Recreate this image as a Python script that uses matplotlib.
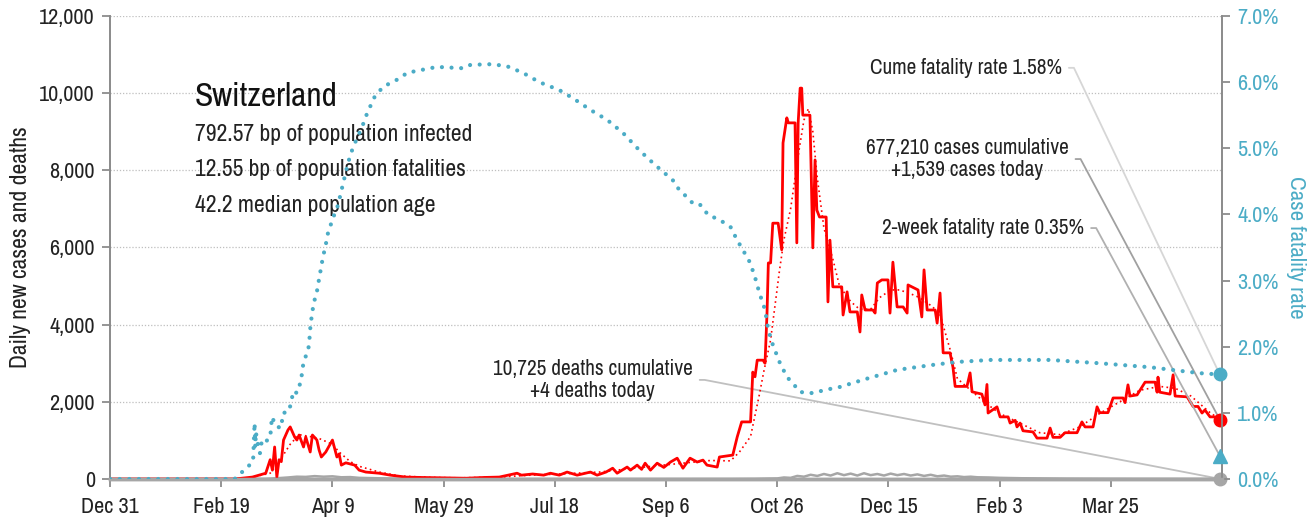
import matplotlib
matplotlib.use("Agg")
import matplotlib.pyplot as plt
from matplotlib import font_manager

# days counted from Dec 31, 2019
tick_days = [0, 50, 100, 150, 200, 250, 300, 350, 400, 450]
tick_labels = ["Dec 31", "Feb 19", "Apr 9", "May 29", "Jul 18",
               "Sep 6", "Oct 26", "Dec 15", "Feb 3", "Mar 25"]

# daily new cases as (day, cases)
case_points = [
    (0, 0), (56, 0), (64, 50), (70, 150), (72, 500), (73, 230), (74, 830), (75, 50),
    (76, 500), (77, 450), (78, 1010), (80, 1270), (81, 1350), (83, 1090), (84, 1010),
    (85, 1140), (87, 830), (88, 1090), (90, 700), (91, 1140), (93, 1010), (94, 750),
    (95, 570), (97, 700), (100, 1010), (102, 570), (103, 650), (104, 360), (106, 420),
    (110, 360), (112, 230), (115, 180), (121, 150), (126, 100), (133, 50), (140, 40),
    (150, 30), (160, 20), (168, 40), (175, 50), (183, 150), (185, 100), (190, 130),
    (195, 100), (198, 150), (202, 100), (205.5, 180), (210, 100), (216, 180), (219, 100),
    (223, 180), (226, 280), (228, 150), (232.5, 310), (234, 230), (237, 360), (239, 250),
    (240.6, 410), (243, 230), (246, 410), (249, 300), (252, 440), (255, 540), (257.6, 280),
    (260.8, 540), (264, 440), (266.6, 490), (268.4, 360), (273, 310), (274, 570),
    (280, 620), (282, 1090), (284, 1480),
    (288, 1480), (289, 2770), (290, 2650), (291, 3080), (293.6, 3080), (294.5, 3000),
    (295.4, 4300), (296, 5600), (297, 5600), (298, 6630), (300.4, 6630), (302, 5940),
    (302.6, 8710), (304.3, 9360), (305, 9230), (308, 9230), (308.8, 6120), (309.4, 9230),
    (310.3, 10130), (311, 10130), (311.5, 9430), (314.7, 9430), (316, 5990), (317, 8270),
    (317.8, 6970), (319, 6790), (322, 6790), (322.8, 4590), (323.7, 6190), (325, 4980),
    (329, 4980), (329.6, 4250), (331.4, 4850), (332.7, 4330), (336, 4330), (337.2, 3810),
    (338, 4770), (339.5, 4380), (343, 4380), (344, 4300), (345, 5080), (347, 5160),
    (349.8, 5160), (350.7, 4300), (352, 5620), (353.9, 4460), (356.6, 4460), (358.4, 4300),
    (358.8, 5030), (363.3, 4900), (365, 4200), (366, 5420), (367.4, 4380), (371, 4380),
    (371.9, 4040), (373.2, 4820), (374.6, 3270), (377.7, 3270), (379, 2900), (380, 2400),
    (385.3, 2400), (386.7, 2750), (387.6, 2260), (392, 2200), (393.4, 1920), (394.3, 2450),
    (394.8, 1710), (398.8, 1870), (400.2, 1610), (403.8, 1610), (404.7, 1450), (407, 1520),
    (407.8, 1350), (409.2, 1450), (410.5, 1250), (415, 1220), (416.8, 1060), (421.3, 1060),
    (422.7, 1320), (424, 1080), (427.2, 1080), (429.4, 1200), (434.8, 1200), (437, 1480),
    (438.4, 1350), (442, 1350), (443.8, 1870), (445, 1720), (448.7, 1720), (451, 2100),
    (455.5, 2100), (456.4, 1980), (457.7, 2440), (458.6, 2150), (461.8, 2180), (465.4, 2510),
    (469.9, 2510), (470.8, 2250), (471.2, 2640), (472, 2250), (476.6, 2200), (478, 2700),
    (478.9, 2150), (484.3, 2130), (487, 1880), (489.2, 1880), (491, 1710), (492.3, 1790),
    (494.6, 1610), (496.8, 1610), (499, 1539),
]

# rolling average of new cases
avg_days = [0, 60, 72, 76, 81, 85, 90, 94, 100, 103, 108, 112, 121, 130, 144, 157, 175,
            189, 202, 220, 234, 247, 261, 270, 279, 283, 288, 292, 294, 297, 299, 301,
            303, 306, 308, 310, 312, 314, 316, 318, 321, 325, 328, 333, 337, 342, 346,
            351, 355, 360, 364, 369, 373, 378, 381, 387, 393, 400, 409, 418, 427, 436,
            445, 454, 463, 472, 479, 486, 495, 499]
avg_cases = [0, 0, 150, 450, 900, 1150, 1100, 1050, 900, 700, 450, 330, 180, 80, 40, 30,
             50, 100, 130, 180, 270, 350, 430, 480, 470, 700, 1100, 2200, 2800, 3600,
             4500, 5400, 6200, 7000, 7800, 8600, 9300, 9600, 9000, 7800, 6500, 5700,
             5000, 4600, 4400, 4400, 4700, 4900, 4900, 4800, 4700, 4500, 4300, 3300,
             2600, 2300, 2000, 1700, 1450, 1200, 1150, 1350, 1700, 2000, 2300, 2400,
             2350, 2150, 1700, 1560]

# daily deaths
death_days = [0, 70, 75, 80, 84, 88, 92, 96, 100, 104, 108, 112, 120, 130, 140, 160,
              250, 280, 290, 296, 300, 303, 306, 309, 312, 315, 318, 321, 324, 327, 330,
              333, 336, 339, 342, 345, 348, 351, 354, 357, 360, 363, 366, 369, 372, 375,
              378, 381, 384, 387, 390, 395, 400, 405, 410, 420, 430, 440, 460, 480, 499]
deaths = [0, 5, 20, 40, 60, 55, 75, 60, 70, 45, 50, 30, 20, 10, 3, 1, 1, 2, 5, 12, 15,
          40, 30, 80, 60, 110, 80, 130, 90, 150, 100, 140, 90, 150, 100, 130, 90, 140,
          100, 130, 90, 120, 80, 110, 70, 90, 60, 70, 50, 60, 45, 40, 30, 25, 20, 15, 10,
          8, 5, 4, 4]

# case fatality rate in percent (right axis)
cfr_days = [0, 56, 64.3, 65, 65.3, 65.6, 66, 67.4, 68.3, 69.7, 72, 72.8, 74.6, 76.9,
            77.8, 80, 81, 81.8, 82.3, 84, 85, 85.9, 86.8, 87.7, 89, 89.5, 90, 90.4,
            90.8, 91.3, 92.2, 93, 93.5, 95.8, 96.7, 98, 100.3, 102.5, 104.8, 107,
            109.3, 113.3, 115.6, 119, 122.8, 130.4, 133.5, 139.4, 147, 158.7, 162,
            169.5, 172, 178.5, 185.7, 193, 202, 208, 216, 223.5, 230.7, 238, 245, 253,
            255, 262, 265, 269, 274, 279, 282, 284.6, 287.8, 290, 292, 294.5, 296, 298,
            301, 304.4, 307, 310, 313, 316, 322, 328, 338.6, 354, 368.7, 381, 396,
            422.7, 445, 467.6, 490, 499]
cfr = [0, 0, 0.26, 0.85, 0.48, 0.71, 0.6, 0.39, 0.59, 0.56, 0.62, 0.94, 0.8, 0.77,
       1.0, 1.01, 1.1, 1.22, 1.33, 1.3, 1.39, 1.5, 1.72, 1.83, 1.94, 2.04, 2.27, 2.39,
       2.49, 2.6, 2.74, 2.83, 2.93, 3.37, 3.49, 3.72, 3.95, 4.14, 4.47, 4.78, 5.02,
       5.32, 5.53, 5.78, 5.93, 6.06, 6.14, 6.18, 6.23, 6.21, 6.26, 6.27, 6.27, 6.24,
       6.14, 6.0, 5.88, 5.76, 5.58, 5.43, 5.23, 4.97, 4.75, 4.52, 4.41, 4.17, 4.16,
       3.99, 3.92, 3.81, 3.61, 3.46, 3.27, 3.05, 2.81, 2.56, 2.25, 2.03, 1.77, 1.54,
       1.45, 1.32, 1.3, 1.3, 1.35, 1.39, 1.5, 1.65, 1.72, 1.77, 1.8, 1.8, 1.75, 1.69,
       1.6, 1.58]

two_week_rate = 0.35
title = "Switzerland"
stats = ["792.57 bp of population infected",
         "12.55 bp of population fatalities",
         "42.2 median population age"]
cume_text = "Cume fatality rate 1.58%"
cases_text = "677,210 cases cumulative\n+1,539 cases today"
twoweek_text = "2-week fatality rate 0.35%"
deaths_text = "10,725 deaths cumulative\n+4 deaths today"

case_days = [p[0] for p in case_points]
cases = [p[1] for p in case_points]

# look for a narrow font, like the original's condensed face
narrow = None
for f in font_manager.fontManager.ttflist:
    if f.style != "normal" or f.weight not in (400, "normal", "regular"):
        continue
    if "Narrow" in f.name or "Condensed" in f.name:
        narrow = (f.name, "normal")
        break
    if f.stretch in ("condensed", "semi-condensed") and f.name in ("Noto Sans", "Open Sans", "Roboto"):
        narrow = (f.name, f.stretch)
if narrow:
    plt.rcParams["font.family"] = [narrow[0], "DejaVu Sans"]
    plt.rcParams["font.stretch"] = narrow[1]
    SCALE = 1.0
else:
    plt.rcParams["font.family"] = ["Roboto", "DejaVu Sans"]
    SCALE = 0.85

TEAL = "#4bacc6"
RED = "#ff0000"
GRAY = "#a6a6a6"

fig = plt.figure(figsize=(13.07, 5.29), dpi=100)
ax = fig.add_axes([0.0842, 0.0945, 0.8508, 0.8753])
ax2 = ax.twinx()

ax.set_xlim(0, 500)
ax.set_ylim(0, 12000)
ax2.set_ylim(0, 7.0)

ax.set_yticks(range(0, 12001, 2000))
ax.set_yticklabels(["{:,}".format(v) for v in range(0, 12001, 2000)])
ax.grid(axis="y", color="#bfbfbf", linestyle=(0, (1, 1.5)), linewidth=0.9)
ax.set_axisbelow(True)
ax.set_xticks(tick_days)
ax.set_xticklabels(tick_labels)
ax2.set_yticks(range(0, 8))
ax2.set_yticklabels(["{:.1f}%".format(i) for i in range(0, 8)])

for a in (ax, ax2):
    a.spines["top"].set_visible(False)
    for s in ("left", "right"):
        a.spines[s].set_color("#8c8c8c")
        a.spines[s].set_linewidth(1.3)
    a.spines["bottom"].set_color(GRAY)
    a.spines["bottom"].set_linewidth(2.5)

TICK_FS = 16 * SCALE
ax.tick_params(axis="y", labelsize=TICK_FS, color="#8c8c8c", length=6, width=1.3,
               labelcolor="#222222", pad=5)
ax.tick_params(axis="x", labelsize=TICK_FS, color="#8c8c8c", length=6, width=1.3,
               labelcolor="#222222", pad=7)
ax2.tick_params(axis="y", labelsize=TICK_FS, color="#8c8c8c", length=6, width=1.3,
                labelcolor=TEAL, pad=5)
ax.set_ylabel("Daily new cases and deaths", fontsize=17 * SCALE, color="#222222",
              labelpad=6)
ax2.set_ylabel("Case fatality rate", fontsize=16.5 * SCALE, color=TEAL, rotation=270,
               labelpad=20)

# series
ax.plot(death_days, deaths, color=GRAY, linewidth=1.8, zorder=3)
ax.plot(case_days, cases, color=RED, linewidth=2.0, zorder=4)
ax.plot(avg_days, avg_cases, color=RED, linewidth=1.2, linestyle=(0, (1, 2)), zorder=5)
ax2.plot(cfr_days, cfr, color=TEAL, linewidth=3.0, linestyle=(0, (0.01, 2.3)),
         dash_capstyle="round", zorder=5)

# end markers
ax2.plot(cfr_days[-1], cfr[-1], "o", color=TEAL, markersize=9, zorder=6, clip_on=False)
ax.plot(case_days[-1], cases[-1], "o", color=RED, markersize=9, zorder=6, clip_on=False)
ax2.plot(cfr_days[-1], two_week_rate, "^", color=TEAL, markersize=10, zorder=6,
         clip_on=False)
ax.plot(death_days[-1], deaths[-1], "o", color=GRAY, markersize=9, zorder=6, clip_on=False)

# text block
ax.text(0.0764, 0.825, title, transform=ax.transAxes, fontsize=24 * SCALE, va="center",
        color="#111111")
for i, s in enumerate(stats):
    ax.text(0.0764, 0.745 - i * 0.077, s, transform=ax.transAxes, fontsize=17 * SCALE,
            va="center", color="#222222")


def callout(axis, txt, xy, xytext, lc):
    axis.annotate(txt, xy=xy, xycoords="data", xytext=xytext, textcoords=ax.transAxes,
                  ha="right", va="center", multialignment="center",
                  fontsize=15.3 * SCALE, color="#222222", linespacing=1.15,
                  arrowprops=dict(arrowstyle="-", color=lc, linewidth=1.3,
                                  shrinkA=3, shrinkB=0, relpos=(1, 0.5),
                                  connectionstyle="arc,angleA=0,armA=12,angleB=0,armB=0,rad=0"),
                  zorder=2)


callout(ax2, cume_text, (cfr_days[-1], cfr[-1]), (0.856, 0.888), "#d6d6d6")
callout(ax, cases_text, (case_days[-1], cases[-1]), (0.862, 0.691), "#a0a0a0")
callout(ax2, twoweek_text, (cfr_days[-1], two_week_rate), (0.876, 0.542), "#b0b0b0")
callout(ax, deaths_text, (death_days[-1], deaths[-1]), (0.524, 0.214), "#c0c0c0")

fig.savefig("out.png", dpi=100)
